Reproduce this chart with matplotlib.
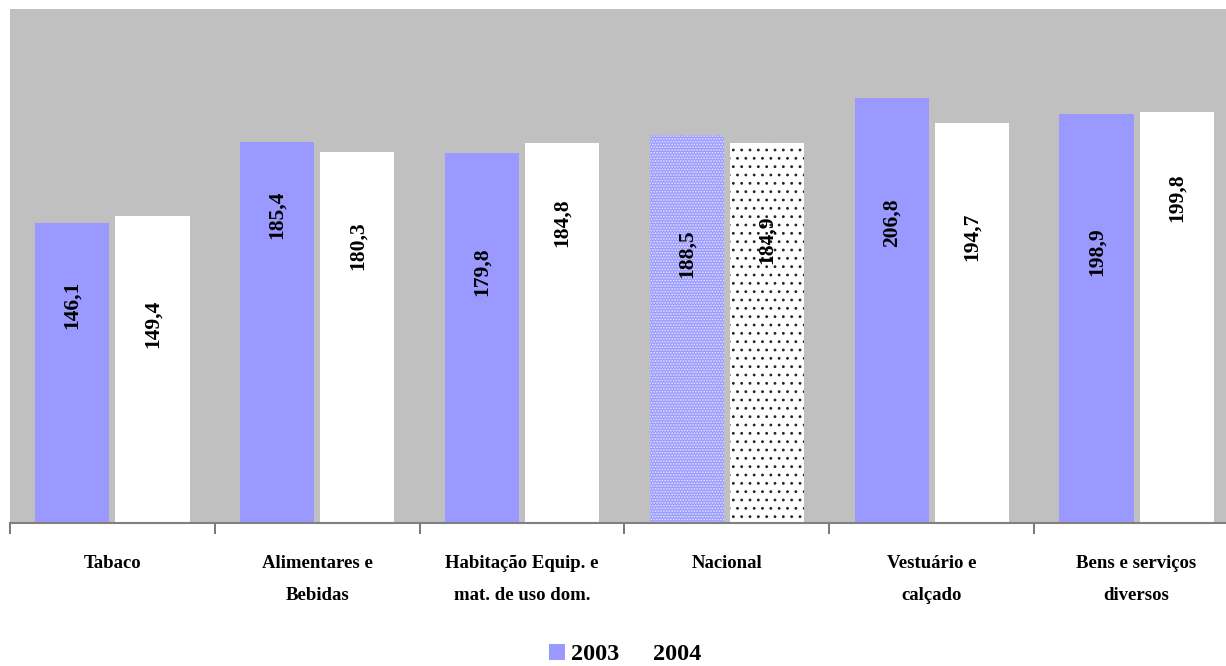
import matplotlib
matplotlib.use("Agg")
import matplotlib.pyplot as plt
import numpy as np
from matplotlib.patches import Patch

categories = ["Tabaco", "Alimentares e\nBebidas", "Habitação Equip. e\nmat. de uso dom.",
              "Nacional", "Vestuário e\ncalçado", "Bens e serviços\ndiversos"]
series_names = ["2003", "2004"]
values_2003 = [146.1, 185.4, 179.8, 188.5, 206.8, 198.9]
values_2004 = [149.4, 180.3, 184.8, 184.9, 194.7, 199.8]
labels_2003 = ["146,1", "185,4", "179,8", "188,5", "206,8", "198,9"]
labels_2004 = ["149,4", "180,3", "184,8", "184,9", "194,7", "199,8"]
# vertical centre of each rotated value label (in data units)
label_pos_2003 = [106, 150, 122, 131, 146, 132]
label_pos_2004 = [97, 135, 146, 138, 139, 158]

plt.rcParams['font.family'] = ['Liberation Serif', 'DejaVu Serif']
plt.rcParams['hatch.linewidth'] = 1.0

W, H = 1226, 666
fig = plt.figure(figsize=(W / 100, H / 100), dpi=100)
left, right, top, bottom = 10, 1239, 9, 523
ax = fig.add_axes([left / W, 1 - bottom / H, (right - left) / W, (bottom - top) / H])
ax.set_facecolor("#C0C0C0")

n = len(categories)
x = np.arange(n)
width = 0.362
off = 0.196
c2003 = "#9999FF"

bars1 = ax.bar(x - off, values_2003, width, color=c2003, linewidth=0)
bars2 = ax.bar(x + off, values_2004, width, color="white", linewidth=0)

# Nacional highlighted with patterns
nat = categories.index("Nacional")
b = bars1[nat]
b.set_facecolor("#9C9CFF")
b.set_hatch("......")
b.set_edgecolor("#E4E4FF")
b.set_linewidth(0)
b2 = bars2[nat]
b2.set_hatch("..")
b2.set_edgecolor("#222222")
b2.set_linewidth(0)
if hasattr(b, "set_hatch_linewidth"):
    b.set_hatch_linewidth(0.8)
    b2.set_hatch_linewidth(0.8)

for i in range(n):
    ax.text(x[i] - off, label_pos_2003[i], labels_2003[i], rotation=90, ha="center", va="center",
            fontsize=15.5, fontweight="bold", color="black")
    ax.text(x[i] + off, label_pos_2004[i], labels_2004[i], rotation=90, ha="center", va="center",
            fontsize=15.5, fontweight="bold", color="black")

ax.set_xlim(-0.5, n - 0.5)
ax.set_ylim(0, 250)
ax.set_yticks([])
for s in ["top", "right", "left"]:
    ax.spines[s].set_visible(False)
ax.spines["bottom"].set_color("#808080")
ax.spines["bottom"].set_linewidth(1.5)

ax.set_xticks(np.arange(n + 1) - 0.5)
ax.set_xticklabels([])
ax.tick_params(axis="x", which="major", direction="out", length=8, width=1.2, color="#606060")
ax.set_xticks(x, minor=True)
ax.set_xticklabels(categories, minor=True, fontsize=13.5, fontweight="bold", linespacing=2.15)
ax.tick_params(axis="x", which="minor", length=0, pad=23)

handles = [Patch(facecolor=c2003, edgecolor="none"), Patch(facecolor="white", edgecolor="none")]
fig.legend(handles, series_names, loc="lower center", bbox_to_anchor=(0.51, -0.032), ncol=2,
           frameon=False, prop={"size": 17.5, "weight": "bold"}, handlelength=0.65, handleheight=0.65,
           handletextpad=0.25, columnspacing=0.5)

fig.savefig("out.png", dpi=100)
